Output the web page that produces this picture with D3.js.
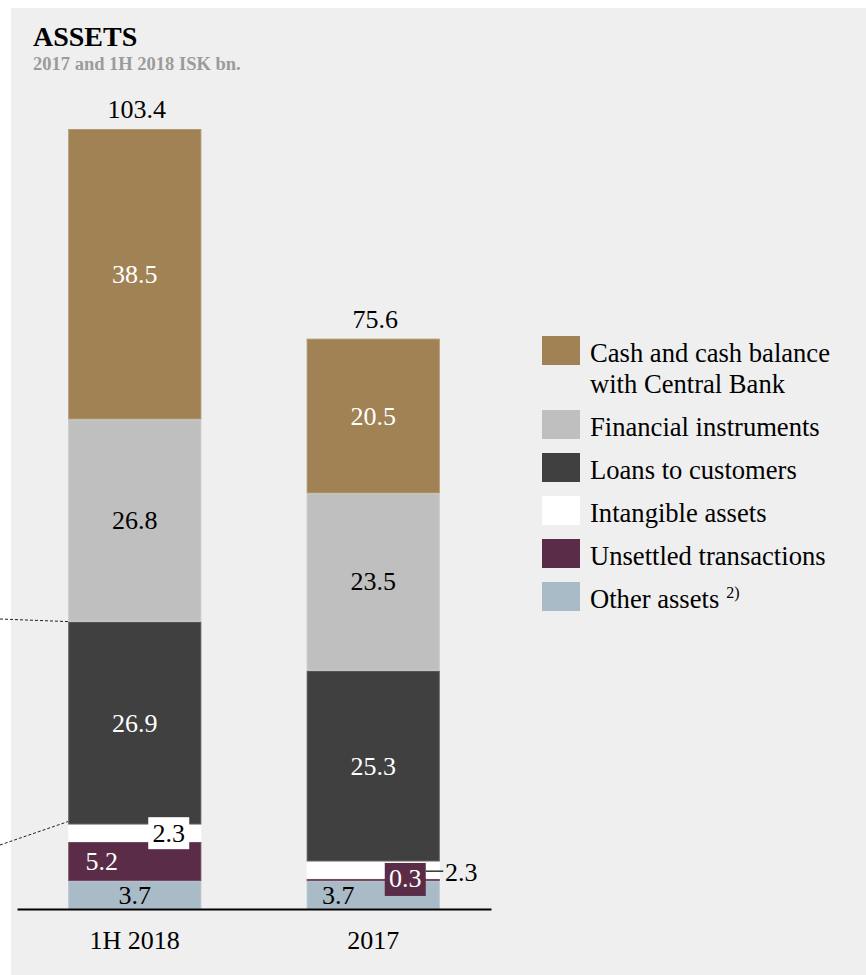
<!DOCTYPE html>
<html>
<head>
<meta charset="utf-8">
<script src="https://cdn.jsdelivr.net/npm/d3@7"></script>
<style>
  html, body { margin: 0; padding: 0; background: #ffffff; }
  svg { display: block; }
  text { font-family: "Liberation Serif", "Times New Roman", serif; }
</style>
</head>
<body>
<svg id="chart" width="866" height="975"></svg>
<script>
// Balance sheet assets, ISK bn.
const periods = ["1H 2018", "2017"];
const seriesNames = ["Other assets", "Unsettled transactions", "Intangible assets",
                     "Loans to customers", "Financial instruments", "Cash and cash balance with Central Bank"];
const otherAssets = [3.7, 3.7];
const unsettled = [5.2, 0.3];
const intangible = [2.3, 2.3];
const loans = [26.9, 25.3];
const financial = [26.8, 23.5];
const cash = [38.5, 20.5];
const totals = [103.4, 75.6];
const seriesColors = ["#a9bbc7", "#5a2c47", "#ffffff", "#404040", "#bfbfbf", "#a08254"];
const labelColors = ["#000000", "#ffffff", "#000000", "#ffffff", "#000000", "#ffffff"];

// legend, top to bottom
const legendItems = [
  { lines: ["Cash and cash balance", "with Central Bank"], color: "#a08254" },
  { lines: ["Financial instruments"], color: "#bfbfbf" },
  { lines: ["Loans to customers"], color: "#404040" },
  { lines: ["Intangible assets"], color: "#ffffff" },
  { lines: ["Unsettled transactions"], color: "#5a2c47" },
  { lines: ["Other assets"], color: "#a9bbc7", sup: "2)" }
];

const seriesValues = [otherAssets, unsettled, intangible, loans, financial, cash];
const rows = periods.map((p, i) => {
  const r = { period: p };
  seriesNames.forEach((s, k) => r[s] = seriesValues[k][i]);
  return r;
});

const svg = d3.select("#chart");

// panel background
svg.append("rect").attr("x", 11).attr("y", 8).attr("width", 855).attr("height", 967).attr("fill", "#efefef");

// title
svg.append("text").attr("x", 33).attr("y", 46).attr("font-size", 28).attr("font-weight", "bold")
  .attr("fill", "#000").text("ASSETS");
svg.append("text").attr("x", 33).attr("y", 70).attr("font-size", 18.5).attr("font-weight", "bold")
  .attr("fill", "#9b9b9b").text("2017 and 1H 2018 ISK bn.");

const baseY = 909;
const y = d3.scaleLinear().domain([0, 103.4]).range([baseY, 129]);
const x = d3.scaleBand().domain(periods).range([17, 491]).paddingInner(0.442).paddingOuter(0.2146);

const stack = d3.stack().keys(seriesNames);
const stacked = stack(rows);

// connector lines towards the loans segment of the first bar
const loansLayer = stacked[3];
const x0 = x(periods[0]);
svg.append("g").attr("class", "connectors")
  .selectAll("line")
  .data([[619, y(loansLayer[0][1])], [845, y(loansLayer[0][0]) - 3]])
  .join("line")
  .attr("x1", 0).attr("y1", d => d[0])
  .attr("x2", x0).attr("y2", d => d[1])
  .attr("stroke", "#222").attr("stroke-width", 1).attr("stroke-dasharray", "3,2");

// stacked bars
const barG = svg.append("g");
barG.selectAll("g.layer")
  .data(stacked)
  .join("g")
  .attr("class", "layer")
  .attr("fill", (d, i) => seriesColors[i])
  .selectAll("rect")
  .data(d => d)
  .join("rect")
  .attr("x", d => x(d.data.period))
  .attr("y", d => y(d[1]))
  .attr("width", x.bandwidth())
  .attr("height", d => y(d[0]) - y(d[1]));

// edge shading on bars
barG.selectAll("rect.outline")
  .data(stacked.flatMap(l => l))
  .join("rect")
  .attr("class", "outline")
  .attr("x", d => x(d.data.period) + 0.5)
  .attr("y", d => y(d[1]) + 0.5)
  .attr("width", x.bandwidth() - 1)
  .attr("height", d => Math.max(0, y(d[0]) - y(d[1]) - 1))
  .attr("fill", "none")
  .attr("stroke", "#ffffff").attr("stroke-opacity", 0.18);

// segment labels: [period index, series index, dx from bar centre, dy, mode]
const labelPlacement = [
  [0, 0, 0, 0, null], [0, 1, -33, 0, null], [0, 2, 34, 0, "#ffffff"],
  [0, 3, 0, 0, null], [0, 4, 0, 0, null], [0, 5, 0, 0, null],
  [1, 0, -35, 0, null], [1, 1, 32, 0, "#5a2c47"], [1, 2, 88, 2, "leader"],
  [1, 3, 0, 0, null], [1, 4, 0, 0, null], [1, 5, 0, 0, null]
];

const fs = 26;
const labelG = svg.append("g").attr("font-size", fs);
labelPlacement.forEach(([pi, si, dx, dy, mode]) => {
  const seg = stacked[si][pi];
  const v = seriesValues[si][pi];
  const cx = x(periods[pi]) + x.bandwidth() / 2 + dx;
  const cy = (y(seg[0]) + y(seg[1])) / 2 + dy;
  let color = labelColors[si];
  if (mode === "leader") {
    labelG.append("line")
      .attr("x1", x(periods[pi]) + x.bandwidth() - 14).attr("x2", cx - 18)
      .attr("y1", cy - 1).attr("y2", cy - 1)
      .attr("stroke", "#000").attr("stroke-width", 1.2);
    color = "#000";
  } else if (mode) {
    const w = 41, h = mode === "#ffffff" ? 32 : 33;
    labelG.append("rect")
      .attr("x", cx - w / 2).attr("y", cy - h / 2 + (mode === "#ffffff" ? 0 : -0.5))
      .attr("width", w).attr("height", h).attr("fill", mode);
  }
  labelG.append("text")
    .attr("x", cx).attr("y", cy + (mode === "#5a2c47" ? -1 : 0))
    .attr("text-anchor", "middle").attr("dominant-baseline", "central")
    .attr("fill", color)
    .text(d3.format(".1f")(v));
});

// totals above bars
svg.append("g").attr("font-size", fs)
  .selectAll("text")
  .data(periods)
  .join("text")
  .attr("x", d => x(d) + x.bandwidth() / 2 + 2)
  .attr("y", (d, i) => y(totals[i]) - 11)
  .attr("text-anchor", "middle")
  .attr("fill", "#000")
  .text((d, i) => d3.format(".1f")(totals[i]));

// baseline and category axis
const axis = d3.axisBottom(x).tickSize(0).tickPadding(22);
const axisG = svg.append("g").attr("transform", `translate(0,${baseY})`).call(axis);
axisG.select(".domain").attr("stroke", "#000").attr("stroke-width", 2);
axisG.selectAll(".tick text")
  .attr("font-family", "Liberation Serif, Times New Roman, serif")
  .attr("font-size", fs).attr("fill", "#000");

// legend
const legendG = svg.append("g").attr("transform", "translate(542,336)").attr("font-size", 26.6);
let offset = 0;
legendItems.forEach(item => {
  const g = legendG.append("g").attr("transform", `translate(0,${offset})`);
  g.append("rect").attr("width", 38).attr("height", 29).attr("fill", item.color);
  const t = g.append("text").attr("x", 48).attr("y", 26).attr("fill", "#000");
  item.lines.forEach((line, j) => {
    t.append("tspan").attr("x", 48).attr("dy", j === 0 ? 0 : 31).text(line);
  });
  if (item.sup) {
    t.append("tspan").attr("dx", 7).attr("dy", -10).attr("font-size", 16).text(item.sup);
  }
  offset += 43 + (item.lines.length - 1) * 31;
});
</script>
</body>
</html>
